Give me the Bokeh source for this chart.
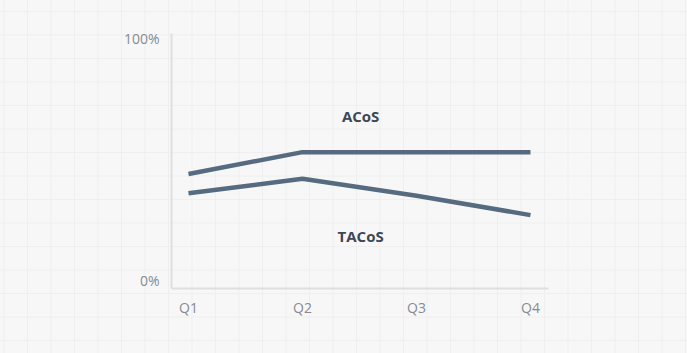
from bokeh.plotting import figure
from bokeh.models import Range1d, FixedTicker, Label
from bokeh.embed import file_html
from bokeh.resources import INLINE

quarters = ["Q1", "Q2", "Q3", "Q4"]
acos = [44, 53, 53, 53]
tacos = [36, 42, 35, 27]
y_ticks = [0, 100]
y_tick_labels = ["0%", "100%"]
series_names = ["ACoS", "TACoS"]

xs = list(range(len(quarters)))

p = figure(width=687, height=353, output_backend="svg", toolbar_location=None,
           x_range=Range1d(-0.149, 3.158), y_range=Range1d(-3.3, 102.0),
           min_border_left=171, min_border_right=139, min_border_top=33,
           min_border_bottom=65)
p.border_fill_color = None
p.background_fill_color = None
p.outline_line_color = None
p.styles = {
    "background-color": "#f7f7f7",
    "background-image": "linear-gradient(to right, #efefef 1px, transparent 1px),"
                        "linear-gradient(to bottom, #efefef 1px, transparent 1px)",
    "background-size": "23.5px 23.5px",
    "background-position": "3.5px 11px",
}
p.grid.visible = False

line_color = "#566a80"
p.line(xs, acos, line_width=4.5, color=line_color)
p.line(xs, tacos, line_width=4.5, color=line_color)

for ax in (p.xaxis[0], p.yaxis[0]):
    ax.axis_line_color = "#dfdfdf"
    ax.axis_line_width = 2
    ax.major_tick_line_color = None
    ax.minor_tick_line_color = None
    ax.major_label_text_color = "#858b94"
    ax.major_label_text_font = "Open Sans"
    ax.major_label_text_font_size = "14px"

p.xaxis.ticker = FixedTicker(ticks=xs)
p.xaxis.major_label_overrides = {i: q for i, q in enumerate(quarters)}
p.xaxis.major_label_standoff = 3
p.yaxis.ticker = FixedTicker(ticks=y_ticks)
p.yaxis.major_label_overrides = dict(zip(y_ticks, y_tick_labels))
p.yaxis.major_label_standoff = 6

label_pos = [(1.51, 67.8), (1.51, 18.2)]
for name, (lx, ly) in zip(series_names, label_pos):
    p.add_layout(Label(x=lx, y=ly, text=name, text_align="center",
                       text_baseline="middle", text_font="Open Sans",
                       text_font_style="bold", text_font_size="15px",
                       text_color="#3e4754"))

open("out.html", "w").write(file_html(p, INLINE))
